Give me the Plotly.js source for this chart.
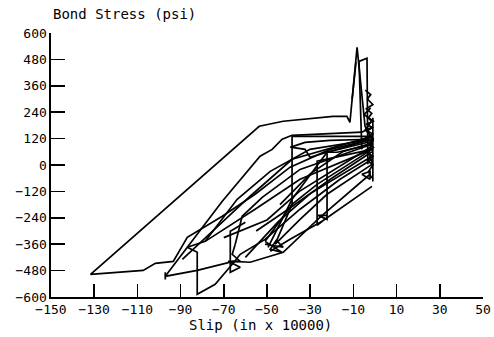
<!DOCTYPE html>
<html>
<head>
<meta charset="utf-8">
<script src="https://cdn.plot.ly/plotly-3.0.1.min.js"></script>
<style>html,body{margin:0;padding:0;background:#fff;}#chart{width:494px;height:337px;}</style>
</head>
<body>
<div id="chart"></div>
<script>
// Slip (in x 10000) and bond stress (psi)
const slipOuter   = [-1.4, -4.6, -8.3, -11.6, -13.0, -19.4, -42.5, -53.6, -131.7, -107.3, -101.7, -93.4, -86.9, -70.7, -55.5, -39.3, -20.8, -1.4];
const stressOuter = [117, 176, 535, 194, 221, 221, 199, 176, -497, -479, -447, -438, -329, -233, -133, -10, 71, 117];

const slipSpike   = [-6.1, -7.4, -3.7, -3.3];
const stressSpike = [71, 471, 485, 3];
const slipSpikeB   = [-10.6, -8.8];
const stressSpikeB = [299, 467];

const slipEdge   = [-4.5, -2, -3.5, -1, -4, -1.5, -3, -0.8, -4, -1.2, -3.5, -0.8, -4.5, -1, -3, -0.8, -4, -1, -3.5, -1, -3, -1.5];
const stressEdge = [340, 320, 300, 275, 255, 235, 215, 200, 185, 170, 155, 140, 125, 110, 95, 80, 60, 40, 20, 0, -30, -60];
const slipEdgeB   = [-2, -5, -1.5, -4.5, -0.8, -3, -1];
const stressEdgeB = [260, 230, 200, 160, 120, 60, 0];
const slipEdgeC   = [-1, -1];
const stressEdgeC = [-75, 215];

const slipLow   = [-97.1, -97.1, -97.1, -82.3, -65.6, -57.8, -42.5, -25.5, -2.3];
const stressLow = [-488, -520, -506, -479, -438, -442, -397, -238, -42];

const slipC2   = [-97.1, -86.9, -70.7, -53.2, -47.6, -43.0, -38.4, -6.1, -1.4];
const stressC2 = [-506, -374, -165, 40, 71, 117, 135, 149, 171];

const slipC4   = [-86.9, -82.3, -82.3, -74.0, -66.1, -62.4, -50.9, -34.7, -16.2, -1.4];
const stressC4 = [-374, -397, -588, -542, -451, -406, -338, -201, -65, 26];

const slipC5   = [-86.9, -78.6, -55.5, -34.7, -1.4];
const stressC5 = [-374, -347, -201, -65, 71];

const slipC6   = [-64.7, -61.5, -52.2, -34.7, -1.4];
const stressC6 = [-360, -233, -147, -20, 94];

const slipC7   = [-78.6, -63.8, -48.5, -30.1, -1.4];
const stressC7 = [-347, -156, -29, 71, 117];

const slipC9   = [-89.2, -57.8, -38.4, -1.4];
const stressC9 = [-429, -142, 26, 130];

const slipK65   = [-60, -67, -67, -62.4, -68, -62.4, -66.1, -64.7];
const stressK65 = [-260, -301, -488, -465, -438, -438, -406, -360];

const slipK50   = [-50.9, -43.0, -48.5, -45.7, -42.5, -50.9];
const stressK50 = [-347, -397, -383, -342, -374, -360];

const slipE1   = [-50.9, -38.4, -26.8, -1.4];
const stressE1 = [-347, -179, -88, 71];
const slipE2   = [-46.2, -34.7, -22.2, -1.4];
const stressE2 = [-360, -247, -133, 3];
const slipE4   = [-49.5, -38.4, -22.2, -1.4];
const stressE4 = [-374, -156, 58, 117];

const slipF1   = [-60, -45, -30, -1.4];
const stressF1 = [-420, -260, -130, 40];
const slipF2   = [-55, -40, -20, -1.4];
const stressF2 = [-300, -200, -60, 60];
const slipF3   = [-70, -50, -35, -1.4];
const stressF3 = [-330, -250, -120, 85];
const slipF4   = [-44, -30, -15, -1.4];
const stressF4 = [-180, -40, 60, 100];

const slipV1   = [-1.4, -38.4, -38.4, -46.2];
const stressV1 = [130, 130, -179, -360];
const slipV2   = [-1.4, -16.2, -26.8, -26.8, -24.5];
const stressV2 = [71, 40, 17, -274, -256];
const slipV3   = [-1.4, -17.5, -22.2, -22.2, -26.3, -22.2];
const stressV3 = [94, 58, 58, -247, -229, -229];

const slipP2   = [-39.3, -32.4, -20.8, -1.4];
const stressP2 = [80, 103, 112, 117];
const slipP3   = [-38.4, -32.4, -30.1, -22.2, -1.4];
const stressP3 = [80, 71, 35, 58, 108];

const slipR1   = [-1.4, -24.5, -39.3, -48.5];
const stressR1 = [-97, -256, -338, -392];
const slipRt   = [-6.1, -2.3, -2.3, -6.1];
const stressRt = [-42, -65, -29, -42];

const xTicks = [-150, -130, -110, -90, -70, -50, -30, -10, 10, 30, 50];
const yTicks = [-600, -480, -360, -240, -120, 0, 120, 240, 360, 480, 600];

const paths = [
  [slipOuter, stressOuter], [slipSpike, stressSpike], [slipSpikeB, stressSpikeB],
  [slipEdge, stressEdge], [slipEdgeB, stressEdgeB], [slipEdgeC, stressEdgeC], [slipLow, stressLow],
  [slipC2, stressC2], [slipC4, stressC4], [slipC5, stressC5], [slipC6, stressC6],
  [slipC7, stressC7], [slipC9, stressC9], [slipK65, stressK65], [slipK50, stressK50],
  [slipE1, stressE1], [slipE2, stressE2], [slipE4, stressE4],
  [slipF1, stressF1], [slipF2, stressF2], [slipF3, stressF3], [slipF4, stressF4],
  [slipV1, stressV1], [slipV2, stressV2], [slipV3, stressV3],
  [slipP2, stressP2], [slipP3, stressP3], [slipR1, stressR1], [slipRt, stressRt]
];

const traces = paths.map(p => ({
  x: p[0], y: p[1], type: 'scatter', mode: 'lines',
  line: {color: '#000', width: 1.7}, showlegend: false, hoverinfo: 'skip'
}));

const font = {family: '"DejaVu Sans Mono", monospace', size: 13, color: '#000'};

const layout = {
  width: 494, height: 337,
  margin: {l: 51, r: 11, t: 33, b: 40},
  paper_bgcolor: '#fff', plot_bgcolor: '#fff',
  font: font,
  showlegend: false,
  hovermode: false,
  xaxis: {
    range: [-150, 50], tickmode: 'array', tickvals: xTicks,
    ticks: 'inside', ticklen: 13, tickwidth: 1.6, tickcolor: '#000',
    showline: true, linewidth: 1.6, linecolor: '#000',
    showgrid: false, zeroline: false, tickfont: font
  },
  yaxis: {
    range: [-600, 600], tickmode: 'array', tickvals: yTicks,
    ticks: 'inside', ticklen: 14, tickwidth: 1.6, tickcolor: '#000',
    showline: true, linewidth: 1.6, linecolor: '#000',
    showgrid: false, zeroline: false, tickfont: font
  },
  annotations: [
    {text: 'Bond Stress (psi)', xref: 'paper', yref: 'paper', x: 0, y: 1.072,
     xanchor: 'left', yanchor: 'middle', showarrow: false,
     font: {family: '"DejaVu Sans Mono", monospace', size: 14, color: '#000'}},
    {text: 'Slip (in x 10000)', xref: 'paper', yref: 'paper', x: 0.486, y: -0.106,
     xanchor: 'center', yanchor: 'middle', showarrow: false,
     font: {family: '"DejaVu Sans Mono", monospace', size: 14, color: '#000'}}
  ]
};

Plotly.newPlot('chart', traces, layout, {displayModeBar: false, staticPlot: true});
</script>
</body>
</html>
